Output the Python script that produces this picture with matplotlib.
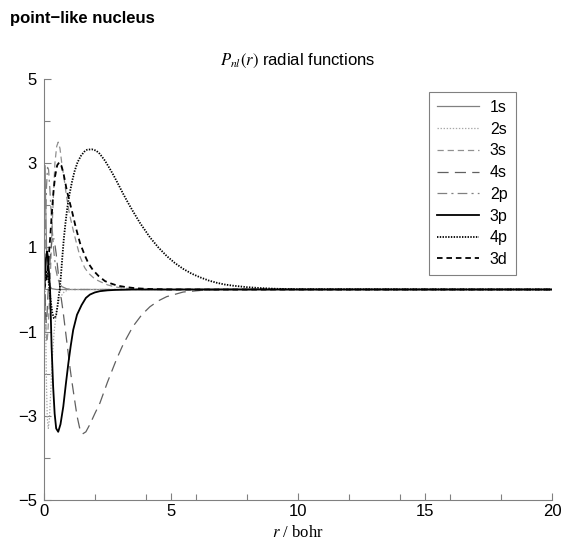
import matplotlib
matplotlib.use('Agg')
import matplotlib.pyplot as plt
from matplotlib.ticker import FixedLocator

plt.rcParams['font.family'] = ['Liberation Sans', 'DejaVu Sans']
plt.rcParams['mathtext.fontset'] = 'stix'
plt.rcParams['lines.scale_dashes'] = False

# radial functions (r in bohr)
r_1s = [0, 0.005, 0.015, 0.03, 0.045, 0.07, 0.1, 0.14, 0.2, 0.3, 0.5, 20]
p_1s = [0, 1.2, 2.5, 2.95, 2.7, 1.9, 1.05, 0.45, 0.12, 0.02, 0, 0]

r_2s = [0, 0.01, 0.02, 0.035, 0.05, 0.07, 0.1, 0.13, 0.17, 0.21, 0.26, 0.32, 0.4, 0.5, 0.62, 0.8, 1.0, 20]
p_2s = [0, 0.7, 1.0, 0.7, 0.0, -1.0, -2.3, -3.05, -3.3, -3.1, -2.5, -1.7, -1.0, -0.5, -0.2, -0.05, 0, 0]

r_3s = [0, 0.008, 0.02, 0.035, 0.05, 0.08, 0.11, 0.15, 0.2, 0.25, 0.3, 0.37, 0.43, 0.5, 0.56,
        0.63, 0.7, 0.8, 0.89, 1.0, 1.15, 1.3, 1.42, 1.6, 1.75, 2.0, 2.2, 2.5, 2.8, 3.2, 3.6, 20]
p_3s = [0, 0.45, 0.55, 0.2, -0.3, -0.95, -1.25, -1.05, -0.45, 0.3, 1.2, 2.2, 3.0, 3.4, 3.5,
        3.35, 3.0, 2.6, 2.2, 1.8, 1.41, 1.05, 0.78, 0.52, 0.39, 0.25, 0.19, 0.11, 0.06, 0.03, 0.01, 0]

r_4s = [0, 0.01, 0.025, 0.04, 0.06, 0.09, 0.12, 0.15, 0.19, 0.25, 0.32, 0.4, 0.48, 0.56, 0.63,
        0.7, 0.76, 0.89, 1.0, 1.09, 1.2, 1.3, 1.4, 1.52, 1.65, 1.81, 2.0, 2.2, 2.5, 2.86, 3.12,
        3.5, 3.85, 4.17, 4.5, 4.83, 5.48, 6.2, 7.0, 20]
p_4s = [0, 0.35, 0.3, 0, -0.55, -0.8, -0.6, -0.2, 0.25, 0.8, 1.2, 1.2, 0.85, 0.4, 0,
        -0.3, -0.56, -1.2, -1.75, -2.15, -2.6, -3.0, -3.28, -3.43, -3.38, -3.2, -2.95, -2.7, -2.2, -1.65, -1.3,
        -0.88, -0.6, -0.41, -0.27, -0.17, -0.06, -0.02, 0, 0]

r_2p = [0, 0.03, 0.06, 0.1, 0.14, 0.18, 0.23, 0.3, 0.38, 0.46, 0.55, 0.7, 0.9, 1.2, 20]
p_2p = [0, 0.5, 1.5, 2.45, 2.9, 2.85, 2.4, 1.65, 0.95, 0.5, 0.24, 0.07, 0.015, 0, 0]

r_3p = [0, 0.04, 0.08, 0.12, 0.15, 0.19, 0.24, 0.3, 0.36, 0.42, 0.48, 0.56, 0.65, 0.76, 0.86,
        0.96, 1.05, 1.15, 1.3, 1.48, 1.65, 1.81, 2.0, 2.2, 2.5, 2.8, 3.5, 20]
p_3p = [0, 0.35, 0.75, 0.9, 0.8, 0.45, 0, -1.36, -2.3, -2.95, -3.3, -3.38, -3.2, -2.78, -2.25,
        -1.75, -1.35, -0.96, -0.6, -0.37, -0.2, -0.12, -0.07, -0.04, -0.02, -0.01, 0, 0]

r_4p = [0, 0.05, 0.1, 0.15, 0.21, 0.27, 0.33, 0.39, 0.43, 0.48, 0.53, 0.58, 0.62, 0.67, 0.72,
        0.78, 0.85, 0.92, 1.0, 1.1, 1.2, 1.32, 1.45, 1.58, 1.7, 1.88, 2.05, 2.2, 2.4, 2.6,
        2.75, 2.95, 3.11, 3.3, 3.5, 3.78, 4.17, 4.5, 4.84, 5.15, 5.48, 5.8, 6.14, 6.5, 6.8,
        7.1, 7.45, 8.0, 8.5, 9.0, 9.5, 10.0, 20]
p_4p = [0, 0.25, 0.42, 0.35, 0.05, -0.3, -0.56, -0.68, -0.68, -0.6, -0.4, -0.15, 0, 0.35, 0.75,
        1.2, 1.6, 1.95, 2.25, 2.55, 2.8, 3.02, 3.17, 3.27, 3.32, 3.33, 3.3, 3.22, 3.06, 2.86,
        2.7, 2.47, 2.28, 2.07, 1.86, 1.58, 1.24, 1.0, 0.79, 0.63, 0.49, 0.38, 0.29, 0.21, 0.16,
        0.12, 0.09, 0.055, 0.035, 0.02, 0.012, 0.006, 0]

r_3d = [0, 0.1, 0.17, 0.24, 0.3, 0.37, 0.44, 0.52, 0.6, 0.68, 0.78, 0.9, 1.0, 1.09, 1.25,
        1.42, 1.6, 1.75, 1.93, 2.15, 2.4, 2.6, 2.9, 3.2, 3.6, 4.2, 5.0, 20]
p_3d = [0, 0.25, 0.63, 1.2, 1.73, 2.3, 2.7, 2.95, 3.02, 2.95, 2.72, 2.35, 2.1, 1.89, 1.48,
        1.1, 0.82, 0.62, 0.46, 0.32, 0.2, 0.15, 0.09, 0.06, 0.03, 0.01, 0, 0]

fig = plt.figure(figsize=(5.61, 5.47), dpi=100)
ax = fig.add_axes([0.0784, 0.0859, 0.9056, 0.7697])

ax.plot(r_1s, p_1s, color='#808080', lw=0.9, label='1s')
ax.plot(r_2s, p_2s, color='#a8a8a8', lw=0.9, ls=(0, (1, 1.2)), label='2s')
ax.plot(r_3s, p_3s, color='#909090', lw=0.9, ls=(0, (4.5, 2.8)), label='3s')
ax.plot(r_4s, p_4s, color='#606060', lw=0.9, ls=(0, (8, 4.5)), label='4s')
ax.plot(r_2p, p_2p, color='#808080', lw=0.9, ls=(0, (7, 3, 1.5, 3)), label='2p')
ax.plot(r_3p, p_3p, color='black', lw=1.3, label='3p')
ax.plot(r_4p, p_4p, color='black', lw=1.3, ls=(0, (1, 1)), label='4p')
ax.plot(r_3d, p_3d, color='black', lw=1.3, ls=(0, (4, 2.8)), label='3d')

ax.set_xlim(0, 20)
ax.set_ylim(-5, 5)
ax.set_xticks([0, 5, 10, 15, 20])
ax.xaxis.set_minor_locator(FixedLocator([2, 4, 6, 8, 12, 14, 16, 18]))
ax.set_yticks([-5, -3, -1, 1, 3, 5])
ax.yaxis.set_minor_locator(FixedLocator([-4, -2, 0, 2, 4]))
ax.tick_params(which='both', direction='in', color='#808080', width=0.8, labelsize=12)
ax.tick_params(which='major', length=5)
ax.tick_params(which='minor', length=4)
ax.tick_params(axis='x', pad=3)
ax.tick_params(axis='y', pad=5)
for s in ['top', 'right']:
    ax.spines[s].set_visible(False)
for s in ['left', 'bottom']:
    ax.spines[s].set_color('#808080')
    ax.spines[s].set_linewidth(0.8)

ax.set_title(r'$P_{nl}(r)$ radial functions', fontsize=12, pad=10)
ax.set_xlabel(r'$r$ / bohr', fontsize=12, family='Liberation Serif', labelpad=4)

leg = ax.legend(loc='upper left', bbox_to_anchor=(0.758, 0.969), fontsize=11.5,
                handlelength=2.6, handletextpad=0.7, labelspacing=0.42,
                borderpad=0.5, borderaxespad=0, fancybox=False, framealpha=1,
                edgecolor='#808080')
leg.get_frame().set_linewidth(0.8)

fig.text(0.018, 0.967, 'point\u2212like nucleus', fontsize=12, fontweight='bold', va='center')

fig.savefig('out.png', dpi=100)
